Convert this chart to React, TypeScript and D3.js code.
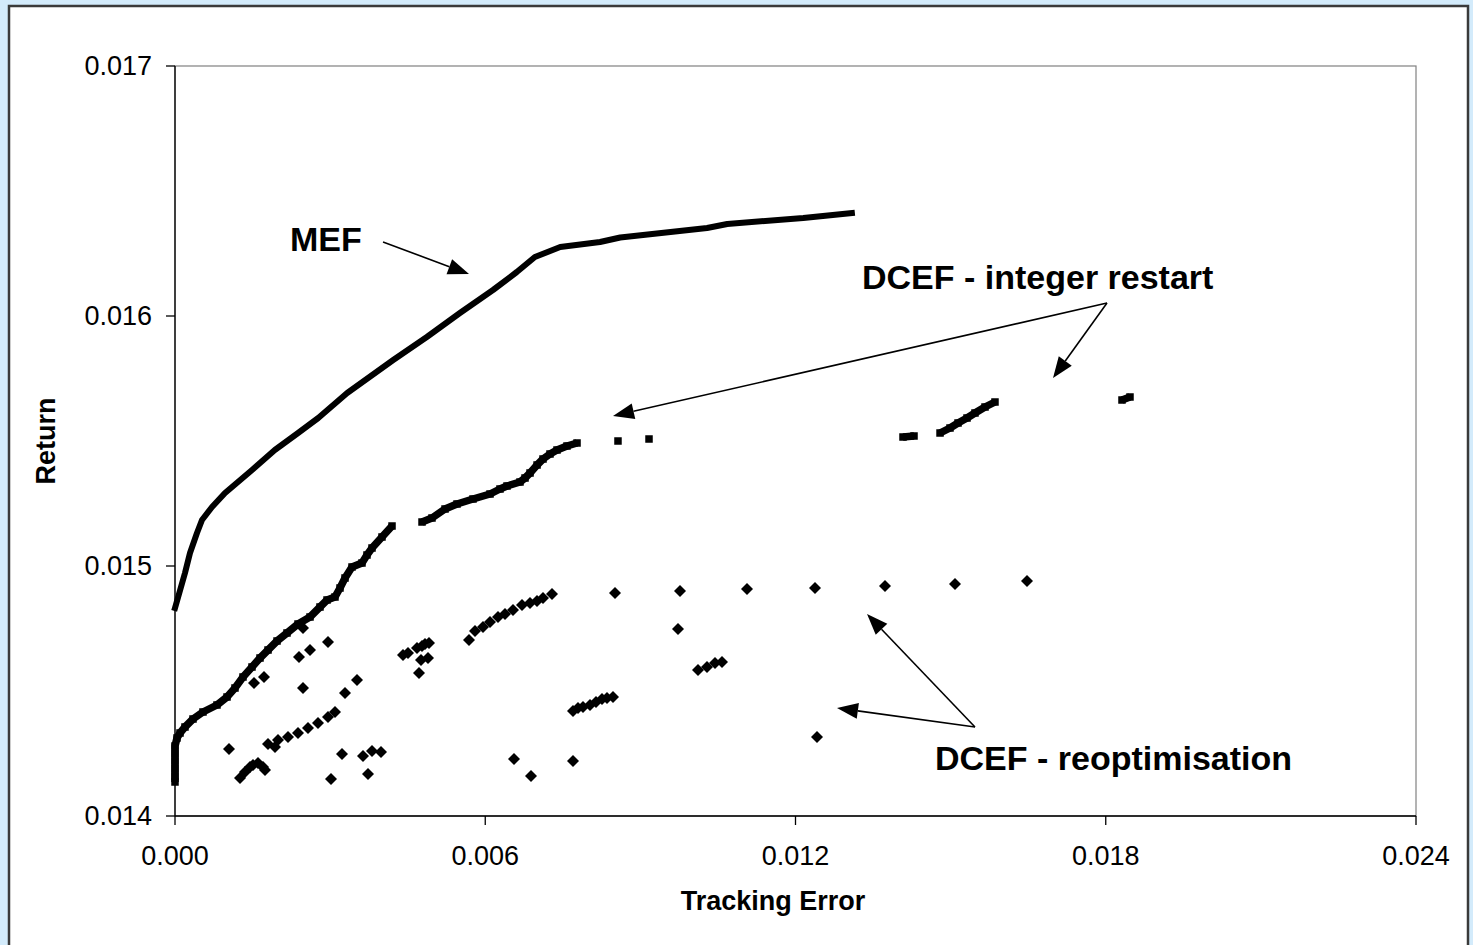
import React from "react";
import * as d3 from "d3";

// ---- data (x = Tracking Error, y = Return) ----
const xTicks = [0, 0.006, 0.012, 0.018, 0.024];
const yTicks = [0.014, 0.015, 0.016, 0.017];

const mefX = [0, 0.000193, 0.00029, 0.000425, 0.000522, 0.000716, 0.000967, 0.00149, 0.00193, 0.00238, 0.00277, 0.00333, 0.00422, 0.00487, 0.00551, 0.00615, 0.00661, 0.00696, 0.00745, 0.00822, 0.00861, 0.01029, 0.01068, 0.01215, 0.01309];
const mefY = [0.014832, 0.014972, 0.015052, 0.015132, 0.015184, 0.015236, 0.015292, 0.015384, 0.015464, 0.015532, 0.015592, 0.015692, 0.015824, 0.015916, 0.016012, 0.016104, 0.016176, 0.016236, 0.016276, 0.016296, 0.016314, 0.016352, 0.016368, 0.016392, 0.016412];

const intX = [0, 0, 0, 0, 0, 0, 0.0000387, 0.0000967, 0.000193, 0.000348, 0.000541, 0.000812, 0.001006, 0.00116, 0.001315, 0.001489, 0.001644, 0.001799, 0.001973, 0.002166, 0.002379, 0.002611, 0.002804, 0.00294, 0.003094, 0.003191, 0.003288, 0.003423, 0.003616, 0.003713, 0.00381, 0.004003, 0.004197, 0.004777, 0.00497, 0.005222, 0.005454, 0.005763, 0.006092, 0.006285, 0.006421, 0.006672, 0.006769, 0.006866, 0.007002, 0.007117, 0.007252, 0.007388, 0.007581, 0.007775, 0.008567, 0.009167, 0.014079, 0.014292, 0.014795, 0.014988, 0.015143, 0.015317, 0.015471, 0.015665, 0.015858, 0.018314, 0.018469];
const intY = [0.014136, 0.01416, 0.01419, 0.01422, 0.01425, 0.01428, 0.014312, 0.014332, 0.014356, 0.014388, 0.014416, 0.014444, 0.014476, 0.014512, 0.014556, 0.014596, 0.014632, 0.014664, 0.0147, 0.014732, 0.014768, 0.014796, 0.014836, 0.014864, 0.014876, 0.014912, 0.014952, 0.014996, 0.015012, 0.015044, 0.015072, 0.015116, 0.01516, 0.015176, 0.015192, 0.015228, 0.015248, 0.015268, 0.015288, 0.015308, 0.01532, 0.015336, 0.015352, 0.015372, 0.015404, 0.015428, 0.015448, 0.015464, 0.01548, 0.015492, 0.0155, 0.015508, 0.015516, 0.01552, 0.015532, 0.015552, 0.015572, 0.015592, 0.015612, 0.015636, 0.015656, 0.015664, 0.015676];

const reoX = [0.001044, 0.001257, 0.001354, 0.00145, 0.001508, 0.001605, 0.001702, 0.001741, 0.001799, 0.001934, 0.001992, 0.002185, 0.002379, 0.002572, 0.002765, 0.002959, 0.003094, 0.001528, 0.001721, 0.002398, 0.002475, 0.002475, 0.002611, 0.002959, 0.003288, 0.00352, 0.003017, 0.00323, 0.003636, 0.003732, 0.00381, 0.003984, 0.004409, 0.004506, 0.00468, 0.004777, 0.004835, 0.004912, 0.004757, 0.004893, 0.004719, 0.005686, 0.005802, 0.005957, 0.006092, 0.006247, 0.006382, 0.006537, 0.006711, 0.006866, 0.007001, 0.007117, 0.007291, 0.006556, 0.006885, 0.007697, 0.007697, 0.007794, 0.00789, 0.008026, 0.008142, 0.008258, 0.008355, 0.008471, 0.008509, 0.009728, 0.009766, 0.010115, 0.010288, 0.010443, 0.010579, 0.011062, 0.012377, 0.012416, 0.013731, 0.015085, 0.016477];
const reoY = [0.014268, 0.014152, 0.014176, 0.014196, 0.014204, 0.014212, 0.014196, 0.014184, 0.014288, 0.014276, 0.014304, 0.014316, 0.014332, 0.014352, 0.014372, 0.014396, 0.014416, 0.014532, 0.014556, 0.014636, 0.014752, 0.014512, 0.014664, 0.014696, 0.014492, 0.014544, 0.014148, 0.014248, 0.01424, 0.014168, 0.01426, 0.014256, 0.014644, 0.014652, 0.014672, 0.01468, 0.014688, 0.014692, 0.014624, 0.014632, 0.014572, 0.014704, 0.01474, 0.014756, 0.014776, 0.014796, 0.014808, 0.014824, 0.014844, 0.014852, 0.01486, 0.014872, 0.014888, 0.014228, 0.01416, 0.01422, 0.01442, 0.014432, 0.014436, 0.014444, 0.014456, 0.014468, 0.014472, 0.014476, 0.014892, 0.014748, 0.0149, 0.014584, 0.014596, 0.014612, 0.014616, 0.014908, 0.014912, 0.014316, 0.01492, 0.014928, 0.01494];

const labels = ["MEF", "DCEF - integer restart", "DCEF - reoptimisation"];
const xTitle = "Tracking Error";
const yTitle = "Return";

// annotation anchors in data units
const mefArrow = { from: [0.004023, 0.016296], to: [0.005686, 0.016168] };
const intArrows = [
  { from: [0.018024, 0.016052], to: [0.008471, 0.0156] },
  { from: [0.018024, 0.016052], to: [0.01698, 0.015752] },
];
const reoArrows = [
  { from: [0.015471, 0.014356], to: [0.013383, 0.014808] },
  { from: [0.015471, 0.014356], to: [0.012803, 0.014432] },
];
const textPos = [
  [0.002224, 0.01626],
  [0.013286, 0.016108],
  [0.014698, 0.014184],
];

const W = 1473;
const H = 945;
const FONT = "'Liberation Sans', Arial, sans-serif";

export default function App() {
  const x = d3.scaleLinear().domain([0, 0.024]).range([175, 1416]);
  const y = d3.scaleLinear().domain([0.014, 0.017]).range([816, 66]);
  const fmt = d3.format(".3f");

  const mef = mefX.map((v, i) => [x(v), y(mefY[i])] as [number, number]);
  const mefPath = d3.line().curve(d3.curveLinear)(mef) || "";

  const intPts = intX.map((v, i) => [x(v), y(intY[i])] as [number, number]);
  // connect consecutive dense points into bands
  const segs: [number, number][][] = [];
  let cur: [number, number][] = [];
  intPts.forEach((p, i) => {
    if (i > 0) {
      const q = intPts[i - 1];
      if (Math.hypot(p[0] - q[0], p[1] - q[1]) > 24) {
        segs.push(cur);
        cur = [];
      }
    }
    cur.push(p);
  });
  segs.push(cur);
  const lineGen = d3.line();

  const reoPts = reoX.map((v, i) => [x(v), y(reoY[i])] as [number, number]);

  const arrow = (a: { from: number[]; to: number[] }, k: string) => {
    const x1 = x(a.from[0]), y1 = y(a.from[1]);
    const x2 = x(a.to[0]), y2 = y(a.to[1]);
    const ang = Math.atan2(y2 - y1, x2 - x1);
    const L = 21, hw = 8;
    const bx = x2 - L * Math.cos(ang), by = y2 - L * Math.sin(ang);
    const px = -Math.sin(ang) * hw, py = Math.cos(ang) * hw;
    return (
      <g key={k}>
        <line x1={x1} y1={y1} x2={bx} y2={by} stroke="#000" strokeWidth={1.6} />
        <polygon points={`${x2},${y2} ${bx + px},${by + py} ${bx - px},${by - py}`} fill="#000" />
      </g>
    );
  };

  return (
    <div style={{ position: "absolute", left: 0, top: 0 }}>
      <svg width={W} height={H} viewBox={`0 0 ${W} ${H}`} style={{ display: "block" }}>
        <rect x={0} y={0} width={W} height={H} fill="#d3ebfb" />
        <rect x={9} y={6} width={1459} height={H + 10} fill="#fff" stroke="#3a3a3a" strokeWidth={2.5} />

        {/* plot frame */}
        <rect x={175} y={66} width={1241} height={750} fill="#fff" stroke="#808080" strokeWidth={1.2} />
        <line x1={175} y1={66} x2={175} y2={816} stroke="#000" strokeWidth={1.3} />
        <line x1={175} y1={816} x2={1416} y2={816} stroke="#000" strokeWidth={1.3} />

        {yTicks.map((t) => (
          <g key={"y" + t}>
            <line x1={166} x2={175} y1={y(t)} y2={y(t)} stroke="#000" strokeWidth={1.3} />
            <text x={152} y={y(t)} dy="0.35em" textAnchor="end" fontFamily={FONT} fontSize={27} fill="#000">
              {fmt(t)}
            </text>
          </g>
        ))}
        {xTicks.map((t) => (
          <g key={"x" + t}>
            <line x1={x(t)} x2={x(t)} y1={816} y2={825} stroke="#000" strokeWidth={1.3} />
            <text x={x(t)} y={865} textAnchor="middle" fontFamily={FONT} fontSize={27} fill="#000">
              {fmt(t)}
            </text>
          </g>
        ))}

        <text x={773} y={910} textAnchor="middle" fontFamily={FONT} fontSize={27} fontWeight="bold">
          {xTitle}
        </text>
        <text transform="translate(55,441) rotate(-90)" textAnchor="middle" fontFamily={FONT} fontSize={27} fontWeight="bold">
          {yTitle}
        </text>

        {/* MEF */}
        <path d={mefPath} fill="none" stroke="#000" strokeWidth={6} strokeLinejoin="round" strokeLinecap="square" />

        {/* integer restart */}
        {segs.filter((s) => s.length > 1).map((s, i) => (
          <path key={"s" + i} d={lineGen(s) || ""} fill="none" stroke="#000" strokeWidth={7.5} strokeLinejoin="round" />
        ))}
        {intPts.map((p, i) => (
          <rect key={"i" + i} x={p[0] - 3.75} y={p[1] - 3.75} width={7.5} height={7.5} fill="#000" />
        ))}

        {/* reoptimisation */}
        {reoPts.map((p, i) => (
          <path key={"r" + i} d={`M${p[0]},${p[1] - 6}L${p[0] + 6},${p[1]}L${p[0]},${p[1] + 6}L${p[0] - 6},${p[1]}Z`} fill="#000" />
        ))}

        {/* annotations */}
        {arrow(mefArrow, "a0")}
        {intArrows.map((a, i) => arrow(a, "ai" + i))}
        {reoArrows.map((a, i) => arrow(a, "ar" + i))}
        {labels.map((l, i) => (
          <text key={l} x={x(textPos[i][0])} y={y(textPos[i][1])} fontFamily={FONT} fontSize={34} fontWeight="bold">
            {l}
          </text>
        ))}
      </svg>
    </div>
  );
}
